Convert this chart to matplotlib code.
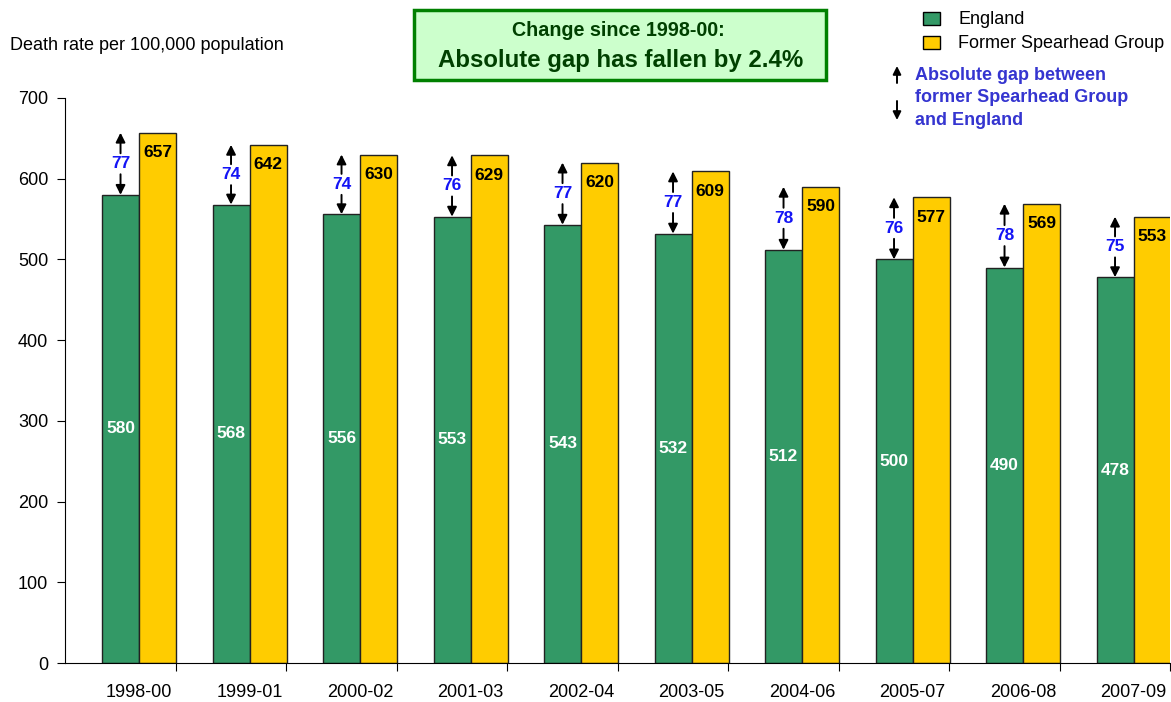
import matplotlib
matplotlib.use("Agg")
import matplotlib.pyplot as plt
import numpy as np

plt.rcParams['font.family'] = ['Liberation Sans', 'DejaVu Sans']

periods = ['1998-00', '1999-01', '2000-02', '2001-03', '2002-04',
           '2003-05', '2004-06', '2005-07', '2006-08', '2007-09']
england = [580, 568, 556, 553, 543, 532, 512, 500, 490, 478]
spearhead = [657, 642, 630, 629, 620, 609, 590, 577, 569, 553]
gaps = [77, 74, 74, 76, 77, 77, 78, 76, 78, 75]

c_eng = '#339966'
c_spr = '#FFCC00'
c_gap = '#1414F5'

fig = plt.figure(figsize=(11.71, 7.02), dpi=100)
ax = fig.add_axes([65/1171, 1 - 663/702, 1105/1171, (663 - 98)/702])

x = np.arange(len(periods))
w = 0.335
ax.bar(x - w/2, england, w, color=c_eng, edgecolor='#222222', linewidth=1)
ax.bar(x + w/2, spearhead, w, color=c_spr, edgecolor='#222222', linewidth=1)

for i in range(len(periods)):
    # values in bars
    ax.text(x[i] - w/2, england[i] / 2, str(england[i]), color='white',
            fontsize=12.5, fontweight='bold', ha='center', va='center')
    ax.text(x[i] + w/2, spearhead[i] - 25, str(spearhead[i]), color='black',
            fontsize=12.5, fontweight='bold', ha='center', va='center')
    # gap arrows
    mid = (england[i] + spearhead[i]) / 2
    ax.text(x[i] - w/2, mid, str(gaps[i]), color=c_gap, fontsize=12.5,
            fontweight='bold', ha='center', va='center')
    ap = dict(arrowstyle='-|>', color='black', lw=1.4, mutation_scale=14,
              shrinkA=0, shrinkB=0)
    ax.annotate('', xy=(x[i] - w/2, spearhead[i]), xytext=(x[i] - w/2, mid + 13),
                arrowprops=ap)
    ax.annotate('', xy=(x[i] - w/2, england[i]), xytext=(x[i] - w/2, mid - 13),
                arrowprops=ap)

ax.set_xlim(-0.67, len(periods) - 0.67)
ax.set_ylim(0, 700)
ax.set_yticks(np.arange(0, 701, 100))
ax.set_xticks(x + 0.33)
ax.set_xticklabels([])
ax.set_xticks(x, minor=True)
ax.set_xticklabels(periods, minor=True)
ax.tick_params(axis='x', which='minor', length=0, pad=15, labelsize=13)
ax.tick_params(axis='x', which='major', length=6, direction='out')
ax.tick_params(axis='y', length=6, direction='out', labelsize=13, pad=6)
for s in ['top', 'right']:
    ax.spines[s].set_visible(False)

fig.text(10/1171, 1 - 45/702, 'Death rate per 100,000 population',
         fontsize=13, ha='left', va='center')

# title box
fig.patches.append(plt.Rectangle((414/1171, 1 - 80/702), 412/1171, 70/702,
                                 transform=fig.transFigure, facecolor='#CCFFCC',
                                 edgecolor='#008000', linewidth=2.5))
fig.text(618/1171, 1 - 30/702, 'Change since 1998-00:', fontsize=14.2,
         fontweight='bold', color='#004000', ha='center', va='center')
fig.text(621/1171, 1 - 61/702, 'Absolute gap has fallen by 2.4%', fontsize=17.3,
         fontweight='bold', color='#004000', ha='center', va='center')

# legend
fig.patches.append(plt.Rectangle((923/1171, 1 - 25/702), 17/1171, 13/702,
                                 transform=fig.transFigure, facecolor=c_eng,
                                 edgecolor='black', linewidth=1))
fig.patches.append(plt.Rectangle((923/1171, 1 - 49/702), 17/1171, 13/702,
                                 transform=fig.transFigure, facecolor=c_spr,
                                 edgecolor='black', linewidth=1))
fig.text(958/1171, 1 - 19/702, 'England', fontsize=13, ha='left', va='center')
fig.text(958/1171, 1 - 44/702, 'Former Spearhead Group', fontsize=13,
         ha='left', va='center')
fig.text(915/1171, 1 - 98/702,
         'Absolute gap between\nformer Spearhead Group\nand England',
         fontsize=13, fontweight='bold', color='#3535D0', ha='left',
         va='center', linespacing=1.45)
lap = dict(arrowstyle='-|>', color='black', lw=1.4, mutation_scale=12,
           shrinkA=0, shrinkB=0)
ax.annotate('', xy=(897/1171, 1 - 66/702), xytext=(897/1171, 1 - 83/702),
            xycoords='figure fraction', textcoords='figure fraction',
            arrowprops=lap)
ax.annotate('', xy=(897/1171, 1 - 120/702), xytext=(897/1171, 1 - 101/702),
            xycoords='figure fraction', textcoords='figure fraction',
            arrowprops=lap)

fig.savefig('out.png', dpi=100)
